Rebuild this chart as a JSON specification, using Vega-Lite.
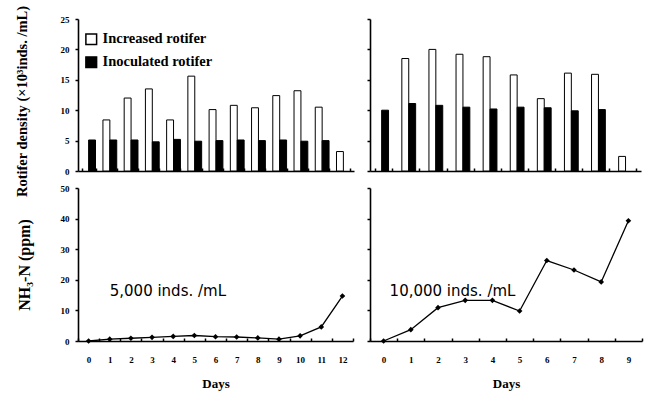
{
  "$schema": "https://vega.github.io/schema/vega-lite/v6.json",
  "background": "white",
  "padding": {"left": 14, "top": 5, "right": 5, "bottom": 4},
  "config": {
    "view": {"stroke": null},
    "font": "Liberation Serif",
    "axis": {
      "grid": false,
      "domainColor": "black",
      "domainWidth": 1.6,
      "tickColor": "black",
      "tickWidth": 1.5,
      "labelColor": "black",
      "labelFont": "Liberation Serif",
      "labelFontWeight": "bold",
      "labelFontSize": 9,
      "titleColor": "black",
      "titleFont": "Liberation Serif",
      "titleFontWeight": "bold"
    }
  },
  "datasets": {
    "rot5000": [
      {"day": 0, "type": "Inoculated rotifer", "value": 5.1},
      {"day": 1, "type": "Increased rotifer", "value": 8.4},
      {"day": 1, "type": "Inoculated rotifer", "value": 5.1},
      {"day": 2, "type": "Increased rotifer", "value": 12.0},
      {"day": 2, "type": "Inoculated rotifer", "value": 5.1},
      {"day": 3, "type": "Increased rotifer", "value": 13.5},
      {"day": 3, "type": "Inoculated rotifer", "value": 4.8},
      {"day": 4, "type": "Increased rotifer", "value": 8.4},
      {"day": 4, "type": "Inoculated rotifer", "value": 5.2},
      {"day": 5, "type": "Increased rotifer", "value": 15.6},
      {"day": 5, "type": "Inoculated rotifer", "value": 4.9},
      {"day": 6, "type": "Increased rotifer", "value": 10.1},
      {"day": 6, "type": "Inoculated rotifer", "value": 5.0},
      {"day": 7, "type": "Increased rotifer", "value": 10.8},
      {"day": 7, "type": "Inoculated rotifer", "value": 5.1},
      {"day": 8, "type": "Increased rotifer", "value": 10.4},
      {"day": 8, "type": "Inoculated rotifer", "value": 5.0},
      {"day": 9, "type": "Increased rotifer", "value": 12.4},
      {"day": 9, "type": "Inoculated rotifer", "value": 5.1},
      {"day": 10, "type": "Increased rotifer", "value": 13.2},
      {"day": 10, "type": "Inoculated rotifer", "value": 4.9},
      {"day": 11, "type": "Increased rotifer", "value": 10.5},
      {"day": 11, "type": "Inoculated rotifer", "value": 5.0},
      {"day": 12, "type": "Increased rotifer", "value": 3.2}
    ],
    "rot10000": [
      {"day": 0, "type": "Inoculated rotifer", "value": 10.0},
      {"day": 1, "type": "Increased rotifer", "value": 18.5},
      {"day": 1, "type": "Inoculated rotifer", "value": 11.1},
      {"day": 2, "type": "Increased rotifer", "value": 20.0},
      {"day": 2, "type": "Inoculated rotifer", "value": 10.8},
      {"day": 3, "type": "Increased rotifer", "value": 19.2},
      {"day": 3, "type": "Inoculated rotifer", "value": 10.5},
      {"day": 4, "type": "Increased rotifer", "value": 18.8},
      {"day": 4, "type": "Inoculated rotifer", "value": 10.2},
      {"day": 5, "type": "Increased rotifer", "value": 15.8},
      {"day": 5, "type": "Inoculated rotifer", "value": 10.5},
      {"day": 6, "type": "Increased rotifer", "value": 11.9},
      {"day": 6, "type": "Inoculated rotifer", "value": 10.4},
      {"day": 7, "type": "Increased rotifer", "value": 16.1},
      {"day": 7, "type": "Inoculated rotifer", "value": 9.9},
      {"day": 8, "type": "Increased rotifer", "value": 15.9},
      {"day": 8, "type": "Inoculated rotifer", "value": 10.1},
      {"day": 9, "type": "Increased rotifer", "value": 2.4}
    ],
    "nh5000": [
      {"day": 0, "value": 0}, {"day": 1, "value": 0.6}, {"day": 2, "value": 0.9},
      {"day": 3, "value": 1.2}, {"day": 4, "value": 1.5}, {"day": 5, "value": 1.8},
      {"day": 6, "value": 1.4}, {"day": 7, "value": 1.3}, {"day": 8, "value": 1.0},
      {"day": 9, "value": 0.6}, {"day": 10, "value": 1.7}, {"day": 11, "value": 4.6},
      {"day": 12, "value": 14.7}
    ],
    "nh10000": [
      {"day": 0, "value": 0}, {"day": 1, "value": 3.7}, {"day": 2, "value": 10.9},
      {"day": 3, "value": 13.3}, {"day": 4, "value": 13.3}, {"day": 5, "value": 9.8},
      {"day": 6, "value": 26.3}, {"day": 7, "value": 23.2}, {"day": 8, "value": 19.3},
      {"day": 9, "value": 39.3}
    ],
    "note5000": [{"day": 1, "value": 16.5, "label": "5,000 inds. /mL"}],
    "note10000": [{"day": 0, "value": 16.5, "label": "10,000 inds. /mL"}]
  },
  "columns": 2,
  "bounds": "flush",
  "spacing": {"row": 17, "column": 16},
  "resolve": {"scale": {"fill": "independent"}, "legend": {"fill": "independent"}},
  "concat": [
    {
      "width": 276,
      "height": 152,
      "data": {"name": "rot5000"},
      "mark": {"type": "bar", "stroke": "black", "strokeWidth": 1},
      "encoding": {
        "x": {"field": "day", "type": "ordinal",
          "scale": {"paddingInner": 0.35, "paddingOuter": 0.175},
          "axis": {"title": null, "labels": false, "tickBand": "extent", "tickSize": -3}},
        "xOffset": {"field": "type", "sort": ["Increased rotifer", "Inoculated rotifer"]},
        "y": {"field": "value", "type": "quantitative",
          "scale": {"domain": [0, 25], "nice": false},
          "axis": {"values": [0, 5, 10, 15, 20, 25], "title": "Rotifer density (×10³inds. /mL)",
            "titleFontSize": 14.5, "titlePadding": 31, "titleY": 82, "labelPadding": 6, "tickSize": 3}},
        "fill": {"field": "type", "type": "nominal",
          "scale": {"domain": ["Increased rotifer", "Inoculated rotifer"], "range": ["white", "black"]},
          "legend": {"title": null, "orient": "none", "legendX": 6, "legendY": 13,
            "symbolType": "square", "symbolSize": 115, "symbolStrokeColor": "black", "symbolStrokeWidth": 1.5,
            "labelFont": "Liberation Serif", "labelFontWeight": "bold", "labelFontSize": 14.5,
            "labelColor": "black", "rowPadding": 5, "labelOffset": 4}}
      }
    },
    {
      "width": 271,
      "height": 152,
      "data": {"name": "rot10000"},
      "mark": {"type": "bar", "stroke": "black", "strokeWidth": 1},
      "encoding": {
        "x": {"field": "day", "type": "ordinal",
          "scale": {"paddingInner": 0.35, "paddingOuter": 0.175},
          "axis": {"title": null, "labels": false, "tickBand": "extent", "tickSize": -3}},
        "xOffset": {"field": "type", "sort": ["Increased rotifer", "Inoculated rotifer"]},
        "y": {"field": "value", "type": "quantitative",
          "scale": {"domain": [0, 25], "nice": false},
          "axis": {"values": [0, 5, 10, 15, 20, 25], "title": null, "labels": false, "tickSize": 3}},
        "fill": {"field": "type", "type": "nominal",
          "scale": {"domain": ["Increased rotifer", "Inoculated rotifer"], "range": ["white", "black"]},
          "legend": null}
      }
    },
    {
      "width": 275,
      "height": 153,
      "encoding": {
        "x": {"field": "day", "type": "ordinal",
          "scale": {"type": "band", "paddingInner": 0, "paddingOuter": 0},
          "axis": {"title": "Days", "titleFontSize": 13, "titlePadding": 13, "labelAngle": 0,
            "labelPadding": 17, "tickBand": "extent", "tickSize": -3}},
        "y": {"field": "value", "type": "quantitative",
          "scale": {"domain": [0, 50], "nice": false},
          "axis": {"values": [0, 10, 20, 30, 40, 50], "title": "NH₃-N (ppm)",
            "titleFontSize": 16, "titlePadding": 28, "labelPadding": 6, "tickSize": 3}}
      },
      "layer": [
        {
          "data": {"name": "nh5000"},
          "mark": {"type": "line", "color": "black", "strokeWidth": 1.3,
            "point": {"shape": "diamond", "filled": true, "size": 32, "color": "black"}}
        },
        {
          "data": {"name": "note5000"},
          "mark": {"type": "text", "align": "left", "baseline": "middle", "font": "DejaVu Sans",
            "fontSize": 15, "color": "black"},
          "encoding": {"text": {"field": "label"}}
        }
      ]
    },
    {
      "width": 272,
      "height": 153,
      "encoding": {
        "x": {"field": "day", "type": "ordinal",
          "scale": {"type": "band", "paddingInner": 0, "paddingOuter": 0},
          "axis": {"title": "Days", "titleFontSize": 13, "titlePadding": 13, "labelAngle": 0,
            "labelPadding": 17, "tickBand": "extent", "tickSize": -3}},
        "y": {"field": "value", "type": "quantitative",
          "scale": {"domain": [0, 50], "nice": false},
          "axis": {"values": [0, 10, 20, 30, 40, 50], "title": null, "labels": false, "tickSize": 3}}
      },
      "layer": [
        {
          "data": {"name": "nh10000"},
          "mark": {"type": "line", "color": "black", "strokeWidth": 1.3,
            "point": {"shape": "diamond", "filled": true, "size": 32, "color": "black"}}
        },
        {
          "data": {"name": "note10000"},
          "mark": {"type": "text", "align": "left", "baseline": "middle", "font": "DejaVu Sans",
            "fontSize": 15, "color": "black", "dx": 6},
          "encoding": {"text": {"field": "label"}}
        }
      ]
    }
  ]
}
